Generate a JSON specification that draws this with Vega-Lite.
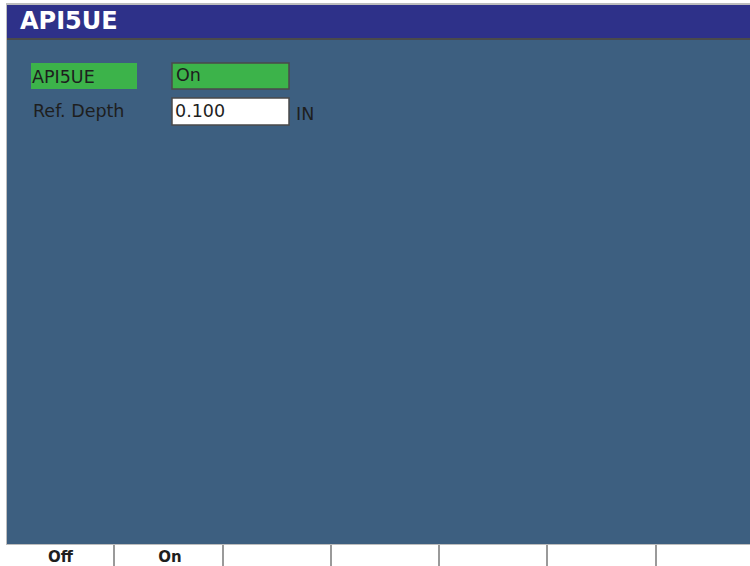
{
  "$schema": "https://vega.github.io/schema/vega-lite/v6.json",
  "width": 750,
  "height": 566,
  "padding": 0,
  "autosize": {"type": "none"},
  "background": "#ffffff",
  "config": {"view": {"stroke": null}, "axis": {"disable": true}},
  "datasets": {
    "boxes": [
      {"part": "frame", "x0": 6, "x1": 750, "y0": 3, "y1": 545},
      {"part": "title", "x0": 7, "x1": 750, "y0": 5, "y1": 38},
      {"part": "sep", "x0": 7, "x1": 750, "y0": 38, "y1": 40},
      {"part": "panel", "x0": 7, "x1": 750, "y0": 40, "y1": 544},
      {"part": "keys", "x0": 7, "x1": 750, "y0": 545, "y1": 566},
      {"part": "green", "x0": 31, "x1": 137, "y0": 63, "y1": 89}
    ],
    "fields": [
      {"part": "green", "x0": 172, "x1": 289, "y0": 63, "y1": 89},
      {"part": "white", "x0": 172, "x1": 289, "y0": 98, "y1": 125}
    ],
    "dividers": [
      {"x": 114}, {"x": 223}, {"x": 331}, {"x": 439}, {"x": 547}, {"x": 656}
    ],
    "texts": [
      {"label": "API5UE", "role": "title", "x": 20, "y": 29},
      {"label": "API5UE", "role": "item", "x": 32, "y": 83},
      {"label": "Ref. Depth", "role": "item", "x": 33, "y": 117},
      {"label": "On", "role": "item", "x": 176, "y": 81},
      {"label": "0.100", "role": "item", "x": 175, "y": 117},
      {"label": "IN", "role": "item", "x": 296, "y": 120},
      {"label": "Off", "role": "key", "x": 60.5, "y": 562},
      {"label": "On", "role": "key", "x": 170, "y": 562}
    ]
  },
  "layer": [
    {
      "data": {"name": "boxes"},
      "mark": {"type": "rect"},
      "encoding": {
        "x": {"field": "x0", "type": "quantitative", "scale": {"domain": [0, 750], "nice": false, "zero": false}, "axis": null},
        "x2": {"field": "x1"},
        "y": {"field": "y0", "type": "quantitative", "scale": {"domain": [0, 566], "nice": false, "zero": false, "reverse": true}, "axis": null},
        "y2": {"field": "y1"},
        "color": {"field": "part", "type": "nominal", "legend": null,
          "scale": {"domain": ["frame", "title", "sep", "panel", "keys", "green", "white"],
                    "range": ["#bdbdbd", "#2e3189", "#4a4a4a", "#3d5f80", "#ffffff", "#3cb34a", "#ffffff"]}}
      }
    },
    {
      "data": {"name": "fields"},
      "mark": {"type": "rect", "stroke": "#4a4a4a", "strokeWidth": 1.5},
      "encoding": {
        "x": {"field": "x0", "type": "quantitative"},
        "x2": {"field": "x1"},
        "y": {"field": "y0", "type": "quantitative"},
        "y2": {"field": "y1"},
        "color": {"field": "part", "type": "nominal", "legend": null}
      }
    },
    {
      "data": {"name": "dividers"},
      "mark": {"type": "rule", "color": "#9a9a9a", "strokeWidth": 2},
      "encoding": {
        "x": {"field": "x", "type": "quantitative"},
        "y": {"datum": 545, "type": "quantitative"},
        "y2": {"datum": 566}
      }
    },
    {
      "data": {"name": "texts"},
      "transform": [{"filter": "datum.role === 'title'"}],
      "mark": {"type": "text", "align": "left", "baseline": "alphabetic", "font": "DejaVu Sans", "fontWeight": "bold", "fontSize": 24, "color": "#ffffff"},
      "encoding": {
        "x": {"field": "x", "type": "quantitative"},
        "y": {"field": "y", "type": "quantitative"},
        "text": {"field": "label"}
      }
    },
    {
      "data": {"name": "texts"},
      "transform": [{"filter": "datum.role === 'item'"}],
      "mark": {"type": "text", "align": "left", "baseline": "alphabetic", "font": "DejaVu Sans", "fontSize": 17.5, "color": "#1e1e1e"},
      "encoding": {
        "x": {"field": "x", "type": "quantitative"},
        "y": {"field": "y", "type": "quantitative"},
        "text": {"field": "label"}
      }
    },
    {
      "data": {"name": "texts"},
      "transform": [{"filter": "datum.role === 'key'"}],
      "mark": {"type": "text", "align": "center", "baseline": "alphabetic", "font": "DejaVu Sans", "fontWeight": "bold", "fontSize": 15, "color": "#1e1e1e"},
      "encoding": {
        "x": {"field": "x", "type": "quantitative"},
        "y": {"field": "y", "type": "quantitative"},
        "text": {"field": "label"}
      }
    }
  ]
}
